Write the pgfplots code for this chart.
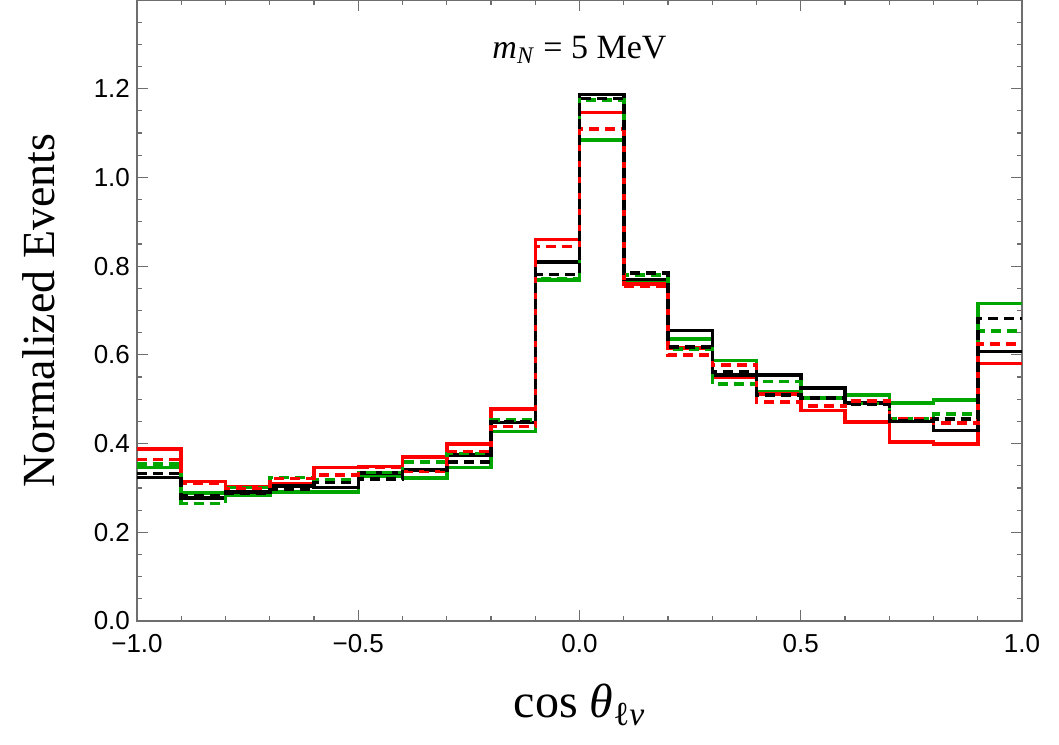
\documentclass[border=0pt]{standalone}
\usepackage{fontspec}
\setmainfont{Liberation Serif}
\newfontfamily\ticksf{Liberation Sans}
\usepackage{pgfplots}
\usepackage{pgfplotstable}
\pgfplotsset{compat=1.18}
\definecolor{MGreen}{RGB}{0,166,0}
\definecolor{MRed}{RGB}{255,0,0}
\definecolor{FrameGray}{RGB}{110,110,110}

% left bin edges; last row repeats the last bin so the step closes at x=1
\pgfplotstableread{
x     K     Kd    G     Gd    R     Rd
-1.0  0.324 0.333 0.346 0.354 0.388 0.364
-0.9  0.277 0.282 0.289 0.265 0.314 0.310
-0.8  0.291 0.288 0.284 0.301 0.303 0.299
-0.7  0.304 0.297 0.291 0.324 0.310 0.321
-0.6  0.301 0.312 0.291 0.319 0.346 0.329
-0.5  0.334 0.320 0.327 0.335 0.348 0.346
-0.4  0.340 0.342 0.322 0.358 0.370 0.337
-0.3  0.374 0.359 0.346 0.378 0.399 0.382
-0.2  0.447 0.450 0.427 0.453 0.478 0.438
-0.1  0.809 0.781 0.769 0.771 0.860 0.844
0.0   1.187 1.178 1.084 1.174 1.146 1.109
0.1   0.770 0.784 0.764 0.780 0.760 0.755
0.2   0.655 0.618 0.636 0.613 0.615 0.600
0.3   0.555 0.561 0.587 0.534 0.549 0.577
0.4   0.555 0.510 0.516 0.540 0.512 0.494
0.5   0.525 0.503 0.503 0.503 0.474 0.485
0.6   0.492 0.488 0.509 0.490 0.449 0.496
0.7   0.450 0.451 0.491 0.457 0.404 0.457
0.8   0.429 0.455 0.498 0.467 0.399 0.446
0.9   0.608 0.682 0.716 0.654 0.581 0.624
1.0   0.608 0.682 0.716 0.654 0.581 0.624
}\histdata

\begin{document}
\begin{tikzpicture}
\useasboundingbox (-68.5pt,-61.5pt) rectangle (461pt,310.5pt);
\begin{axis}[
    width=442.5pt,
    height=310.5pt,
    scale only axis,
    xmin=-1, xmax=1,
    ymin=0, ymax=1.4,
    xtick={-1,-0.5,0,0.5,1},
    xticklabels={−1.0,−0.5,0.0,0.5,1.0},
    minor x tick num=4,
    ytick={0,0.2,0.4,0.6,0.8,1.0,1.2,1.4},
    yticklabels={0.0,0.2,0.4,0.6,0.8,1.0,1.2,{}},
    minor y tick num=3,
    tick align=inside,
    major tick length=5.5pt,
    minor tick length=2.5pt,
    axis line style={draw=FrameGray, line width=0.8pt},
    tick style={draw=FrameGray, line width=0.6pt},
    tick label style={font=\ticksf\fontsize{13}{15}\selectfont},
    xticklabel style={yshift=-3pt},
    xlabel={cos \textit{θ}\textsubscript{ℓ\textit{ν}}},
    ylabel={Normalized Events},
    xlabel style={font=\fontsize{24}{28}\selectfont,
        at={(axis description cs:0.5,-0.135)}, anchor=center},
    ylabel style={font=\fontsize{23}{27}\selectfont,
        at={(axis description cs:-0.111,0.5)}, anchor=center},
    const plot mark left,
    every axis plot/.append style={line width=1.75pt, line join=miter},
]
\addplot[MGreen, no markers] table[x=x,y=G] {\histdata};
\addplot[MRed, no markers] table[x=x,y=R] {\histdata};
\addplot[black, no markers] table[x=x,y=K] {\histdata};
\addplot[MGreen, no markers, dash pattern=on 5pt off 3pt] table[x=x,y=Gd] {\histdata};
\addplot[MRed, no markers, dash pattern=on 5pt off 3pt] table[x=x,y=Rd] {\histdata};
\addplot[black, no markers, dash pattern=on 5pt off 3pt] table[x=x,y=Kd] {\histdata};

\node[font=\fontsize{17}{20}\selectfont] at (axis cs:0,1.287)
    {\textit{m}\textsubscript{\textit{N}} = 5 MeV};
\end{axis}
\end{tikzpicture}
\end{document}
